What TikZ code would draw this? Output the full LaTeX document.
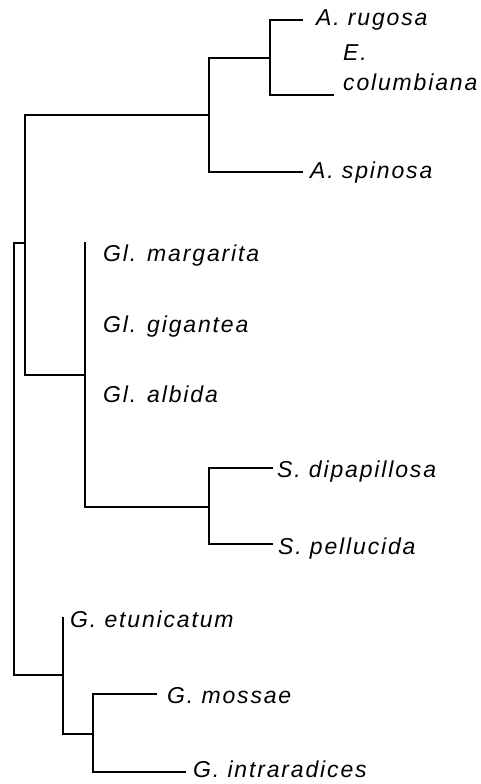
\documentclass[tikz,border=0pt]{standalone}
\usepackage{fontspec}
\setmainfont{Liberation Sans}[LetterSpace=8]
\begin{document}
\begin{tikzpicture}[x=1pt,y=-1pt,
  branch/.style={line width=2.3pt,line join=miter,line cap=rect},
  taxon/.style={inner sep=0pt,anchor=base west,font=\fontsize{23}{30}\selectfont\itshape,align=left}]
\useasboundingbox (0,0) rectangle (481,784);
% taxa
\node[taxon] (rug) at (316,26) {A. rugosa};
\node[taxon] (col) at (343,90) {E.\\columbiana};
\node[taxon] (spi) at (310,178) {A. spinosa};
\node[taxon] (mar) at (103,261) {Gl. margarita};
\node[taxon] (gig) at (103,332) {Gl. gigantea};
\node[taxon] (alb) at (103,402) {Gl. albida};
\node[taxon] (dip) at (277,477) {S. dipapillosa};
\node[taxon] (pel) at (278,554) {S. pellucida};
\node[taxon] (etu) at (70,627) {G. etunicatum};
\node[taxon] (mos) at (167,703) {G. mossae};
\node[taxon] (int) at (193,777) {G. intraradices};
% internal nodes
\coordinate (rt) at (14,243); \coordinate (rb) at (14,675);
\coordinate (ut) at (25,115); \coordinate (ub) at (25,375); \coordinate (uj) at (25,243);
\coordinate (at) at (209,58); \coordinate (ab) at (209,172); \coordinate (aj) at (209,115);
\coordinate (bt) at (270,20); \coordinate (bb) at (270,95); \coordinate (bj) at (270,58);
\coordinate (gt) at (85,243); \coordinate (gb) at (85,507); \coordinate (gj) at (85,375);
\coordinate (st) at (209,468); \coordinate (sb) at (209,544); \coordinate (sj) at (209,507);
\coordinate (ht) at (63,618); \coordinate (hb) at (63,734); \coordinate (hj) at (63,675);
\coordinate (kt) at (93,694); \coordinate (kb) at (93,772); \coordinate (kj) at (93,734);
% branch tips
\coordinate (e1) at (302,20); \coordinate (e2) at (333,95); \coordinate (e3) at (302,172);
\coordinate (e4) at (272,468); \coordinate (e5) at (272,544);
\coordinate (e6) at (156,694); \coordinate (e7) at (185,772);
% branches
\draw[branch] (e1) -- (bt) -- (bb) -- (e2);
\draw[branch] (bj) -- (at) -- (ab) -- (e3);
\draw[branch] (aj) -- (ut) -- (ub) -- (gj);
\draw[branch] (uj) -- (rt) -- (rb) -- (hj);
\draw[branch] (gt) -- (gb) -- (sj);
\draw[branch] (e4) -- (st) -- (sb) -- (e5);
\draw[branch] (ht) -- (hb) -- (kj);
\draw[branch] (e6) -- (kt) -- (kb) -- (e7);
\end{tikzpicture}
\end{document}
